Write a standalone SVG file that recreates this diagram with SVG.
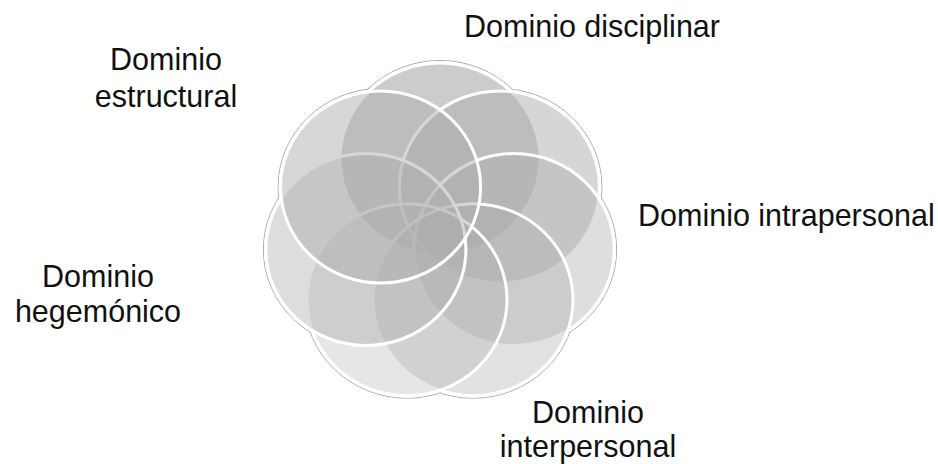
<svg xmlns="http://www.w3.org/2000/svg" width="938" height="464" viewBox="0 0 938 464">
<style>
.ol{fill:none;stroke:#a8a8a8;stroke-width:1}
.wb{fill:#ffffff;stroke:none}
.c{stroke:#ffffff;stroke-width:3;fill:#adadad}
.lbl{font-family:"Liberation Sans",Arial,sans-serif;font-size:30.5px;fill:#111111}
</style>
<g id="outline">
<ellipse class="ol" cx="440" cy="159" rx="102.5" ry="98.5"/>
<ellipse class="ol" cx="499.4" cy="187" rx="102.5" ry="98.5"/>
<ellipse class="ol" cx="514.1" cy="249.5" rx="102.5" ry="98.5"/>
<ellipse class="ol" cx="473" cy="299.7" rx="102.5" ry="98.5"/>
<ellipse class="ol" cx="407" cy="299.7" rx="102.5" ry="98.5"/>
<ellipse class="ol" cx="365.9" cy="249.5" rx="102.5" ry="98.5"/>
<ellipse class="ol" cx="380.6" cy="187" rx="102.5" ry="98.5"/>
<ellipse class="wb" cx="440" cy="159" rx="102" ry="98"/>
<ellipse class="wb" cx="499.4" cy="187" rx="102" ry="98"/>
<ellipse class="wb" cx="514.1" cy="249.5" rx="102" ry="98"/>
<ellipse class="wb" cx="473" cy="299.7" rx="102" ry="98"/>
<ellipse class="wb" cx="407" cy="299.7" rx="102" ry="98"/>
<ellipse class="wb" cx="365.9" cy="249.5" rx="102" ry="98"/>
<ellipse class="wb" cx="380.6" cy="187" rx="102" ry="98"/>
</g>
<g id="c1"><ellipse class="c" cx="440" cy="159" rx="100" ry="96" fill-opacity="0.62"/></g>
<g id="c2"><ellipse class="c" cx="499.4" cy="187" rx="100" ry="96" fill-opacity="0.5"/></g>
<g id="c3"><ellipse class="c" cx="514.1" cy="249.5" rx="100" ry="96" fill-opacity="0.4"/></g>
<g id="c4"><ellipse class="c" cx="473" cy="299.7" rx="100" ry="96" fill-opacity="0.36"/></g>
<g id="c5"><ellipse class="c" cx="407" cy="299.7" rx="100" ry="96" fill-opacity="0.3"/></g>
<g id="c6"><ellipse class="c" cx="365.9" cy="249.5" rx="100" ry="96" fill-opacity="0.42"/></g>
<g id="c7"><ellipse class="c" cx="380.6" cy="187" rx="100" ry="96" fill-opacity="0.49"/></g>
<g id="labels">
<text class="lbl" x="464" y="37">Dominio disciplinar</text>
<text class="lbl" x="166" y="69.5" text-anchor="middle">Dominio</text>
<text class="lbl" x="166" y="107" text-anchor="middle">estructural</text>
<text class="lbl" x="638" y="226">Dominio intrapersonal</text>
<text class="lbl" x="98" y="287" text-anchor="middle">Dominio</text>
<text class="lbl" x="98" y="322" text-anchor="middle">hegemónico</text>
<text class="lbl" x="588" y="423" text-anchor="middle">Dominio</text>
<text class="lbl" x="588" y="457" text-anchor="middle">interpersonal</text>
</g>
</svg>
